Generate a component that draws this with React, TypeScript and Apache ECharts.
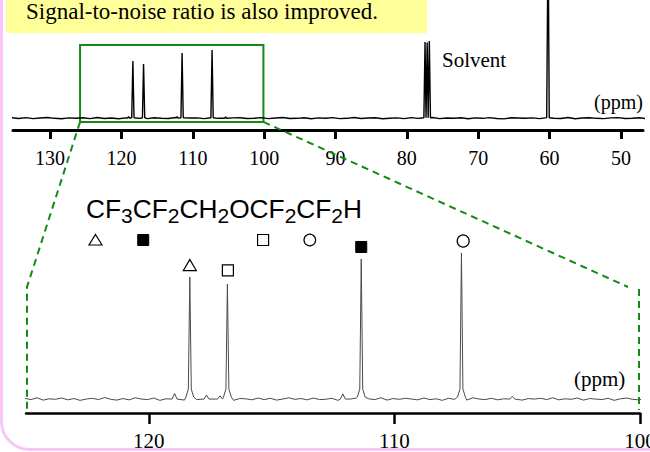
import React, { useEffect, useRef } from 'react';
import * as echarts from 'echarts';

// ---------- texts ----------
const HEADER = 'Signal-to-noise ratio is also improved.';
const SOLVENT_LABEL = 'Solvent';
const UNIT_LABEL = '(ppm)';

// ---------- axes ----------
const topTicks = [130, 120, 110, 100, 90, 80, 70, 60, 50];
const topRange = [46.9, 135.2];
const bottomTicks = [120, 110, 100];
const bottomRange = [100, 125];

// ---------- overview spectrum (top) ----------
const topPeakPpm = [118.4, 116.9, 111.5, 107.3, 77.45, 77.15, 76.85, 60.2];
const topPeakHeight = [0.484, 0.458, 0.552, 0.577, 0.645, 0.64, 0.653, 1.6];
const topBumpPpm = [119.0, 112.2, 105.4];
const topBumpHeight = [0.014, 0.014, 0.01];
const topNoiseStart = 135.4;
const topNoiseStep = 1;
const topNoiseUnit = 0.0012;
const topNoise = [
  3, -2, 4, -3, 1, 5, -1, -4, 2, 0,
  3, -3, 5, -2, 1, -4, 2, 4, -1, -3,
  3, 0, -2, 5, -4, 1, 2, -3, 4, -1,
  -5, 2, 3, -2, 0, 4, -3, 1, 5, -2,
  -1, 3, -4, 2, 0, 4, -3, -1, 5, -2,
  1, 3, -4, 0, 2, -3, 4, -1, -2, 5,
  -3, 1, 0, 3, -4, 2, -1, 4, -2, -5,
  3, 1, -1, 2, -3, 4, 0, -2, 5, -4,
  1, 3, -1, -3, 2, 4, -2, 0, 3, -4,
  1, 2,
];

// ---------- expanded spectrum (bottom) ----------
const bottomPeakPpm = [118.33, 116.8, 111.35, 107.27];
const bottomPeakHeight = [0.613, 0.578, 0.704, 0.734];
const bottomBumpPpm = [118.95, 117.65, 117.1, 112.1, 105.2];
const bottomBumpHeight = [0.028, 0.02, 0.016, 0.026, 0.014];
const bottomNoiseStart = 125.05;
const bottomNoiseStep = 0.25;
const bottomNoiseUnit = 0.0013;
const bottomNoise = [
  3, -2, 5, -4, 1, -1, 4, -3, 2, -5,
  0, 3, -2, 6, -1, -4, 2, -3, 5, 0,
  -2, 4, -5, 1, 3, -1, -4, 2, -2, 5,
  -3, 0, 4, -1, -5, 2, 1, -3, 4, -2,
  3, -4, 0, 5, -1, 2, -3, 4, -2, -1,
  3, -5, 2, 0, 4, -3, 1, -2, 5, -4,
  2, -1, 3, 0, -3, 4, -2, 1, -5, 3,
  -1, 2, -4, 5, 0, -2, 3, -3, 1, 4,
  -1, -4, 2, 0, 3, -2, 5, -3, 1, -1,
  4, -4, 2, 0, -2, 3, -5, 1, 4, -1,
  -3, 2, 0, 3, -2,
];

// peak markers above the expanded peaks
const markerPpm = [118.33, 116.78, 111.35, 107.2];
const markerLevel = [0.673, 0.646, 0.764, 0.794];
const markerKind = ['triangle', 'square', 'filledSquare', 'circle'];

// formula
const formulaParts = ['CF', '3', 'CF', '2', 'CH', '2', 'OCF', '2', 'CF', '2', 'H'];
const formulaIsSub = [false, true, false, true, false, true, false, true, false, true, false];
const formulaMarkPart = [0, 2, 6, 8];
const formulaMarkChar = [0, 0, 1, 0];
const formulaMarkKind = ['triangle', 'filledSquare', 'square', 'circle'];
const formulaMarkNudge = [0, 1, 4, 4];

// zoom box on overview (data coords)
const zoomBox = { fromPpm: 125.8, toPpm: 100.1, low: -0.032, high: 0.619 };
const linkLevel = 0.563;

const GREEN = '#138a13';
const SERIF = '"Liberation Serif", "Times New Roman", serif';
const SANS = '"Liberation Sans", Arial, sans-serif';

function buildSpectrum(
  start: number, step: number, noise: number[], unit: number,
  peaks: number[], heights: number[], peakOff: number[], peakSide: number[],
  bumps: number[], bumpH: number[], bumpOff: number,
) {
  const pts: number[][] = [];
  const centers = peaks.concat(bumps);
  noise.forEach((n, i) => {
    const ppm = start - i * step;
    if (centers.some((c) => Math.abs(c - ppm) < peakOff[0] + 0.03)) return;
    pts.push([ppm, n * unit]);
  });
  peaks.forEach((p, k) => {
    peakOff.forEach((o, j) => {
      pts.push([p + o, o === 0 ? heights[k] : peakSide[j]]);
    });
  });
  bumps.forEach((b, k) => {
    pts.push([b + bumpOff, 0]);
    pts.push([b, bumpH[k]]);
    pts.push([b - bumpOff, 0]);
  });
  pts.sort((a, b) => b[0] - a[0]);
  return pts;
}

export default function App() {
  const ref = useRef<HTMLDivElement>(null);
  useEffect(() => {
    const chart = echarts.init(ref.current!, null, { renderer: 'svg' });

    const topData = buildSpectrum(
      topNoiseStart, topNoiseStep, topNoise, topNoiseUnit,
      topPeakPpm, topPeakHeight, [0.16, 0, -0.16], [0.004, 0, 0.004],
      topBumpPpm, topBumpHeight, 0.15,
    );
    const bottomData = buildSpectrum(
      bottomNoiseStart, bottomNoiseStep, bottomNoise, bottomNoiseUnit,
      bottomPeakPpm, bottomPeakHeight, [0.16, 0.06, 0, -0.06, -0.16], [0.01, 0.05, 0, 0.05, 0.01],
      bottomBumpPpm, bottomBumpHeight, 0.1,
    );

    const symbolFor = (kind: string) => {
      if (kind === 'triangle') return { symbol: 'triangle', symbolSize: [13, 11], itemStyle: { color: '#fff', borderColor: '#000', borderWidth: 1.2, opacity: 1 } };
      if (kind === 'square') return { symbol: 'rect', symbolSize: [11, 11], itemStyle: { color: '#fff', borderColor: '#000', borderWidth: 1.2, opacity: 1 } };
      if (kind === 'filledSquare') return { symbol: 'rect', symbolSize: [11, 11], itemStyle: { color: '#000', borderColor: '#000', borderWidth: 1, opacity: 1 } };
      return { symbol: 'circle', symbolSize: 12, itemStyle: { color: '#fff', borderColor: '#000', borderWidth: 1.2, opacity: 1 } };
    };

    const axisCommon = (ticks: number[], fontSize: number, lineW: number, tickLen: number, margin: number) => ({
      type: 'value',
      inverse: true,
      axisLine: { show: true, onZero: false, lineStyle: { color: '#000', width: lineW } },
      axisTick: { show: true, customValues: ticks, length: tickLen, lineStyle: { color: '#000', width: lineW } },
      axisLabel: { show: true, customValues: ticks, fontSize, fontFamily: SERIF, color: '#000', margin },
      splitLine: { show: false },
    });

    chart.setOption({
      animation: false,
      grid: [
        { left: 13, top: 0, width: 630, height: 130, containLabel: false, outerBoundsMode: 'none' },
        { left: 26, top: 200, width: 614, height: 213, containLabel: false, outerBoundsMode: 'none' },
      ],
      xAxis: [
        { ...axisCommon(topTicks, 20, 3, 9, 18), gridIndex: 0, min: topRange[0], max: topRange[1] },
        { ...axisCommon(bottomTicks, 21, 2.5, 11, 17.5), gridIndex: 1, min: bottomRange[0], max: bottomRange[1] },
      ],
      yAxis: [
        { type: 'value', gridIndex: 0, min: -0.1, max: 1, show: false },
        { type: 'value', gridIndex: 1, min: -0.07, max: 1, show: false },
      ],
      series: [
        {
          type: 'line', xAxisIndex: 0, yAxisIndex: 0, data: topData, symbol: 'none',
          lineStyle: { color: '#000', width: 1.4 }, clip: true, silent: true,
          markArea: {
            silent: true,
            itemStyle: { color: 'rgba(0,0,0,0)', borderColor: GREEN, borderWidth: 2 },
            data: [[{ coord: [zoomBox.fromPpm, zoomBox.low] }, { coord: [zoomBox.toPpm, zoomBox.high] }]],
          },
        },
        {
          type: 'line', xAxisIndex: 1, yAxisIndex: 1, data: bottomData, symbol: 'none',
          lineStyle: { color: '#4a4a4a', width: 1 }, clip: true, silent: true,
        },
        {
          type: 'scatter', xAxisIndex: 1, yAxisIndex: 1, silent: true, z: 5,
          itemStyle: { opacity: 1 },
          data: markerPpm.map((p, i) => ({ value: [p, markerLevel[i]], ...symbolFor(markerKind[i]) })),
        },
      ],
    });

    const p0 = (pt: number[]) => chart.convertToPixel({ xAxisIndex: 0, yAxisIndex: 0 }, pt) as number[];
    const p1 = (pt: number[]) => chart.convertToPixel({ xAxisIndex: 1, yAxisIndex: 1 }, pt) as number[];

    // formula layout measured with canvas
    const ctx = document.createElement('canvas').getContext('2d')!;
    const measure = (t: string, size: number) => { ctx.font = `${size}px "Liberation Sans"`; return ctx.measureText(t).width; };
    const mainSize = 26.3, subSize = 21;
    const mainBase = 218.3, subBase = 223;
    let cursor = 86;
    const partX: number[] = [];
    const formulaEls: any[] = [];
    formulaParts.forEach((t, i) => {
      const size = formulaIsSub[i] ? subSize : mainSize;
      const base = formulaIsSub[i] ? subBase : mainBase;
      partX.push(cursor);
      formulaEls.push({
        type: 'text', x: cursor, y: base - size * 0.3465, z: 100,
        style: { text: t, font: `${size}px ${SANS}`, fontSize: size, fontFamily: SANS, fill: '#000', align: 'left', textAlign: 'left', verticalAlign: 'middle', textVerticalAlign: 'middle' },
      });
      cursor += measure(t, size);
    });
    const markY = 240;
    const shapeEl = (kind: string, cx: number, cy: number) => {
      if (kind === 'triangle') return { type: 'polygon', z: 100, shape: { points: [[cx, cy - 5.5], [cx + 6.5, cy + 5], [cx - 6.5, cy + 5]] }, style: { fill: '#fff', stroke: '#000', lineWidth: 1.2 } };
      if (kind === 'square') return { type: 'rect', z: 100, shape: { x: cx - 5.5, y: cy - 5.5, width: 11, height: 11 }, style: { fill: '#fff', stroke: '#000', lineWidth: 1.2 } };
      if (kind === 'filledSquare') return { type: 'rect', z: 100, shape: { x: cx - 5.5, y: cy - 5.5, width: 11, height: 11 }, style: { fill: '#000', stroke: '#000', lineWidth: 1 } };
      return { type: 'circle', z: 100, shape: { cx, cy, r: 5.8 }, style: { fill: '#fff', stroke: '#000', lineWidth: 1.2 } };
    };
    formulaMarkPart.forEach((pi, k) => {
      const t = formulaParts[pi];
      const ci = formulaMarkChar[k];
      const cx = partX[pi] + measure(t.slice(0, ci), mainSize) + measure(t[ci], mainSize) / 2 + formulaMarkNudge[k];
      formulaEls.push(shapeEl(formulaMarkKind[k], cx, markY));
    });

    // zoom link lines
    const boxBL = p0([zoomBox.fromPpm, zoomBox.low]);
    const boxBR = p0([zoomBox.toPpm, zoomBox.low]);
    const botL = p1([bottomRange[1], linkLevel]);
    const botR = p1([bottomRange[0], linkLevel]);
    const botBottom = p1([bottomRange[0], -0.07])[1];
    const dash = { stroke: GREEN, lineWidth: 2, lineDash: [7, 5], fill: null };

    const textStyle = (text: string, size: number, family: string, align: string) => ({
      text, font: `${size}px ${family}`, fontSize: size, fontFamily: family, fill: '#000',
      align, textAlign: align, verticalAlign: 'middle', textVerticalAlign: 'middle',
    });
    const topUnit = p0([topRange[0], 0]);
    const botUnit = p1([100.6, 0]);

    chart.setOption({
      graphic: {
        elements: [
          { type: 'rect', z: -10, silent: true, shape: { x: 1.5, y: -40, width: 720, height: 489.5, r: 28 }, style: { fill: 'none', stroke: '#f7c6f7', lineWidth: 3 } },
          { type: 'rect', z: 90, silent: true, shape: { x: 6, y: 0, width: 421, height: 33 }, style: { fill: '#ffff99' } },
          { type: 'text', z: 100, x: 26, y: 11.6, style: textStyle(HEADER, 23, SERIF, 'left') },
          { type: 'text', z: 100, x: 442, y: 59.6, style: textStyle(SOLVENT_LABEL, 21, SERIF, 'left') },
          { type: 'text', z: 100, x: topUnit[0], y: 101.7, style: textStyle(UNIT_LABEL, 20, SERIF, 'right') },
          { type: 'text', z: 100, x: botUnit[0], y: 379, style: textStyle(UNIT_LABEL, 21, SERIF, 'right') },
          ...formulaEls,
          { type: 'polyline', z: 50, silent: true, shape: { points: [[boxBL[0], boxBL[1]], [botL[0] + 1, botL[1]], [botL[0] + 1, botBottom - 3]] }, style: dash },
          { type: 'line', z: 50, silent: true, shape: { x1: boxBR[0], y1: boxBR[1], x2: botR[0] - 12, y2: botR[1] }, style: dash },
          { type: 'line', z: 50, silent: true, shape: { x1: botR[0] - 1, y1: botR[1] + 2, x2: botR[0] - 1, y2: botBottom - 3 }, style: dash },
        ],
      },
    });

    return () => chart.dispose();
  }, []);
  return (
    <div style={{ position: 'absolute', left: 0, top: 0, width: 650, height: 452, background: '#fff' }}>
      <div ref={ref} style={{ width: 650, height: 452 }} />
    </div>
  );
}
